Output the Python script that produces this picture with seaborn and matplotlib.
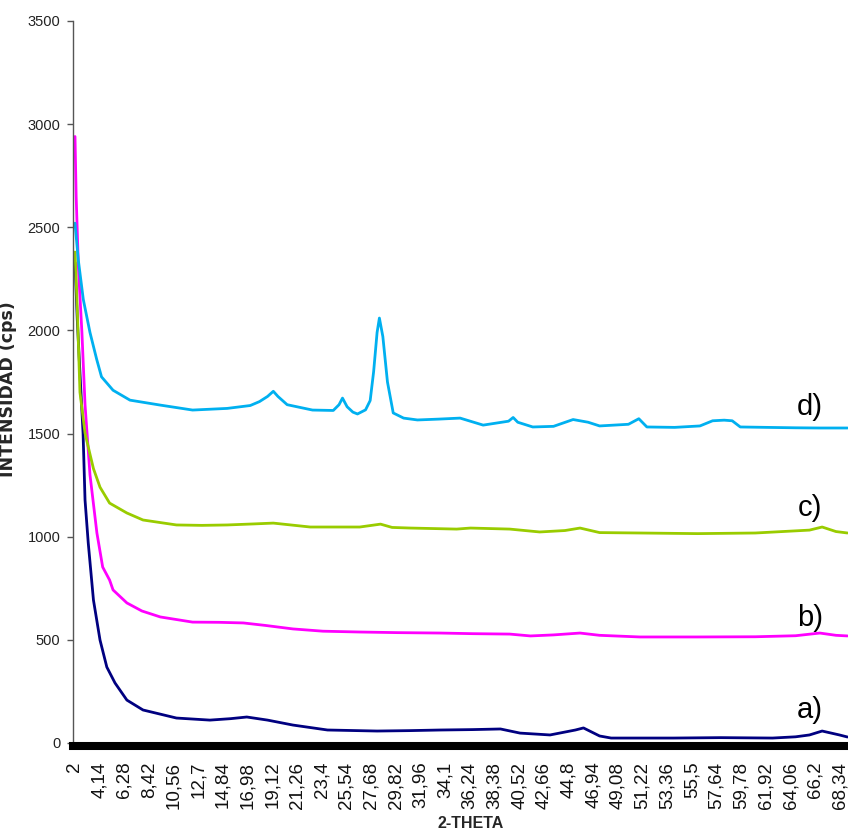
import numpy as np
import pandas as pd
import matplotlib
matplotlib.use("Agg")
import matplotlib.pyplot as plt
import seaborn as sns

# Diffractogram readings (2-theta in degrees, intensity in cps)
a_theta = [2.0, 2.2, 2.43, 2.7, 2.87, 3.15, 3.6, 4.17, 4.76, 5.47, 6.5, 7.9, 10.8, 13.7,
           15.5, 16.9, 18.7, 20.9, 23.9, 28.2, 31.0, 33.7, 36.5, 38.9, 40.6, 43.2, 45.4,
           46.1, 47.5, 48.5, 53.9, 58.0, 62.5, 64.5, 65.7, 66.8, 68.3, 69.0]
a_cps = [2330, 2050, 1793, 1502, 1178, 969, 693, 499, 368, 291, 208, 160, 121, 111,
         118, 126, 111, 87, 63, 58, 60, 63, 65, 68, 48, 39, 63,
         73, 34, 24, 24, 26, 24, 30, 39, 58, 39, 29]

b_theta = [2.0, 2.1, 2.3, 2.6, 2.87, 3.3, 3.9, 4.4, 5.0, 5.3, 6.5, 7.8, 9.4, 12.2, 14.5,
           16.6, 18.5, 20.9, 23.5, 26.7, 30.0, 33.7, 36.5, 39.7, 41.5, 43.5, 45.8, 47.5,
           51.0, 56.0, 61.0, 64.5, 66.6, 68.0, 69.0]
b_cps = [2940, 2650, 2300, 1990, 1640, 1300, 1018, 853, 790, 742, 679, 640, 611, 586, 585,
         582, 570, 553, 542, 538, 535, 533, 530, 528, 519, 524, 533, 522,
         514, 514, 515, 520, 533, 522, 519]

c_theta = [2.0, 2.2, 2.43, 2.87, 3.3, 3.6, 4.17, 5.0, 6.5, 7.9, 10.8, 13.0, 15.2, 17.5,
           19.2, 22.4, 26.7, 28.5, 29.5, 31.1, 35.1, 36.3, 39.7, 42.3, 44.5, 45.8, 47.5,
           51.0, 56.0, 61.0, 65.7, 66.8, 68.0, 69.0]
c_cps = [2380, 2100, 1700, 1502, 1400, 1330, 1240, 1163, 1115, 1081, 1057, 1055, 1057, 1062,
         1066, 1047, 1047, 1061, 1045, 1042, 1037, 1042, 1037, 1023, 1030, 1042, 1020,
         1018, 1015, 1018, 1032, 1047, 1025, 1018]

d_theta = [2.0, 2.29, 2.72, 3.3, 3.88, 4.3, 5.3, 6.77, 9.4, 12.2, 15.2, 17.2, 18.0, 18.7,
           19.2, 19.6, 20.4, 22.6, 24.4, 24.9, 25.2, 25.6, 26.1, 26.5, 27.2, 27.6, 27.9,
           28.2, 28.4, 28.7, 29.1, 29.6, 30.5, 31.7, 33.5, 35.4, 37.4, 39.6, 40.0, 40.4,
           41.7, 43.5, 45.2, 46.5, 47.5, 50.0, 50.9, 51.6, 54.0, 56.2, 57.3, 58.3, 59.0,
           59.7, 62.0, 64.5, 66.6, 69.0]
d_cps = [2520, 2340, 2150, 1990, 1860, 1775, 1710, 1662, 1638, 1614, 1622, 1636, 1655, 1680,
         1705, 1680, 1640, 1614, 1612, 1640, 1672, 1630, 1604, 1595, 1615, 1660, 1800,
         1990, 2060, 1970, 1750, 1600, 1575, 1566, 1570, 1575, 1541, 1560, 1578, 1555,
         1532, 1535, 1568, 1555, 1537, 1545, 1572, 1532, 1530, 1537, 1562, 1565, 1562,
         1532, 1530, 1528, 1527, 1527]

series_names = ["a)", "b)", "c)", "d)"]
series_colors = ["#000080", "#FF00FF", "#99CC00", "#00B0F0"]
label_y = [160, 606, 1139, 1629]

tick_start, tick_step, tick_count = 2.0, 2.14, 32
y_ticks = [0, 500, 1000, 1500, 2000, 2500, 3000, 3500]

frames = []
for name, th, cps in zip(series_names,
                         [a_theta, b_theta, c_theta, d_theta],
                         [a_cps, b_cps, c_cps, d_cps]):
    frames.append(pd.DataFrame({"theta": th, "cps": cps, "muestra": name}))
df = pd.concat(frames, ignore_index=True)

sns.set_style("white")
plt.rcParams["font.family"] = ["Liberation Sans", "DejaVu Sans"]

fig = plt.figure(figsize=(8.48, 8.36), dpi=100)
ax = fig.add_axes([73 / 848, 1 - 743 / 836, 775 / 848, 722 / 836])

sns.lineplot(data=df, x="theta", y="cps", hue="muestra",
             palette=dict(zip(series_names, series_colors)),
             estimator=None, sort=False, legend=False, linewidth=2.0, ax=ax)

px_per_deg = 11.53
x_left = tick_start - 2 / px_per_deg
ax.set_xlim(x_left, x_left + 775 / px_per_deg)
ax.set_ylim(0, 3500)

x_ticks = [round(tick_start + i * tick_step, 2) for i in range(tick_count)]
x_labels = [f"{v:.2f}".rstrip("0").rstrip(".").replace(".", ",") for v in x_ticks]
ax.set_xticks(x_ticks, labels=x_labels)
ax.tick_params(axis="x", length=0, pad=11, labelrotation=90, labelsize=13.5,
               labelcolor="#111111")
for lbl in ax.get_xticklabels():
    lbl.set_family("DejaVu Sans")
    lbl.set_verticalalignment("top")
    lbl.set_horizontalalignment("center")

ax.set_yticks(y_ticks, labels=[str(v) for v in y_ticks])
ax.tick_params(axis="y", left=True, length=4, width=1, color="#555555", pad=5,
               labelsize=10.5, labelcolor="#222222")

for side in ("top", "right"):
    ax.spines[side].set_visible(False)
ax.spines["left"].set_color("#555555")
ax.spines["left"].set_linewidth(1.0)
ax.spines["bottom"].set_color("black")
ax.spines["bottom"].set_linewidth(5.8)
ax.spines["bottom"].set_position(("outward", 2.5))

ax.set_xlabel("2-THETA", fontsize=11.5, fontweight="bold")
ax.xaxis.set_label_coords((471 - 73) / 775, -(816 - 743) / 722)
ax.set_ylabel("INTENSIDAD (cps)", fontsize=12.5, fontweight="bold", family="DejaVu Sans")
ax.yaxis.set_label_coords((17 - 73) / 775, (743 - 389) / 722)

label_x = x_left + (810 - 73) / px_per_deg
for name, yv in zip(series_names, label_y):
    ax.text(label_x, yv, name, fontsize=21, ha="center", va="center", color="black")

fig.savefig("out.png", dpi=100)
